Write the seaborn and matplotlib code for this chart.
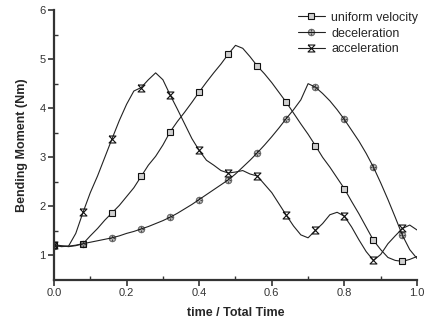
import numpy as np
import pandas as pd
import matplotlib
matplotlib.use("Agg")
import matplotlib.pyplot as plt
from matplotlib.path import Path
import seaborn as sns

time = [0.00, 0.02, 0.04, 0.06, 0.08, 0.10, 0.12, 0.14, 0.16, 0.18,
        0.20, 0.22, 0.24, 0.26, 0.28, 0.30, 0.32, 0.34, 0.36, 0.38,
        0.40, 0.42, 0.44, 0.46, 0.48, 0.50, 0.52, 0.54, 0.56, 0.58,
        0.60, 0.62, 0.64, 0.66, 0.68, 0.70, 0.72, 0.74, 0.76, 0.78,
        0.80, 0.82, 0.84, 0.86, 0.88, 0.90, 0.92, 0.94, 0.96, 0.98, 1.00]

uniform_velocity = [1.22, 1.20, 1.18, 1.20, 1.24, 1.40, 1.55, 1.72, 1.87, 2.02,
                    2.20, 2.38, 2.61, 2.84, 3.02, 3.25, 3.52, 3.73, 3.92, 4.12,
                    4.33, 4.53, 4.72, 4.90, 5.10, 5.28, 5.22, 5.05, 4.86, 4.70,
                    4.52, 4.32, 4.12, 3.90, 3.68, 3.47, 3.24, 3.00, 2.80, 2.58,
                    2.36, 2.10, 1.85, 1.58, 1.31, 1.12, 0.96, 0.90, 0.88, 0.92, 0.98]

deceleration = [1.20, 1.19, 1.19, 1.21, 1.24, 1.27, 1.30, 1.33, 1.36, 1.40,
                1.45, 1.49, 1.54, 1.59, 1.65, 1.71, 1.78, 1.86, 1.95, 2.04,
                2.14, 2.24, 2.34, 2.44, 2.54, 2.66, 2.80, 2.94, 3.09, 3.25,
                3.42, 3.60, 3.79, 3.97, 4.17, 4.50, 4.43, 4.30, 4.15, 3.97,
                3.77, 3.55, 3.33, 3.08, 2.80, 2.48, 2.14, 1.78, 1.41, 1.12, 0.94]

acceleration = [1.22, 1.18, 1.19, 1.45, 1.88, 2.28, 2.62, 3.00, 3.38, 3.75,
                4.08, 4.35, 4.42, 4.58, 4.72, 4.58, 4.27, 3.98, 3.68, 3.38,
                3.14, 2.94, 2.84, 2.73, 2.68, 2.70, 2.73, 2.66, 2.62, 2.45,
                2.28, 2.05, 1.82, 1.60, 1.42, 1.36, 1.51, 1.65, 1.83, 1.88,
                1.80, 1.58, 1.32, 1.08, 0.90, 1.02, 1.24, 1.40, 1.55, 1.62, 1.52]

series_names = ["uniform velocity", "deceleration", "acceleration"]
x_ticks = [0.0, 0.2, 0.4, 0.6, 0.8, 1.0]
y_ticks = [1, 2, 3, 4, 5, 6]

df = pd.DataFrame({
    "time": time * 3,
    "value": uniform_velocity + deceleration + acceleration,
    "series": [series_names[0]] * len(time) + [series_names[1]] * len(time) + [series_names[2]] * len(time),
})

sns.set_style("white")
plt.rcParams["font.family"] = ["Liberation Sans", "DejaVu Sans"]

fig = plt.figure(figsize=(4.33, 3.23), dpi=100)
ax = fig.add_axes([0.1247, 0.133, 0.8383, 0.836])

hourglass = Path([(-1, 1), (1, 1), (-1, -1), (1, -1), (-1, 1)],
                 [Path.MOVETO, Path.LINETO, Path.LINETO, Path.LINETO, Path.LINETO])
markers = {"uniform velocity": "s", "deceleration": "$\\oplus$", "acceleration": hourglass}
msize = {"uniform velocity": 4.5, "deceleration": 5.0, "acceleration": 5.0}
mew = {"uniform velocity": 0.8, "deceleration": 0.3, "acceleration": 0.8}

for name in series_names:
    sub = df[df["series"] == name]
    sns.lineplot(data=sub, x="time", y="value", ax=ax, color="#222222", lw=0.8,
                 marker=markers[name], markersize=msize[name], markevery=4,
                 markerfacecolor="#d0d0d0" if name == "uniform velocity" else "none",
                 markeredgecolor="#111111", markeredgewidth=mew[name], label=name,
                 estimator=None, sort=False)

ax.set_xlim(0, 1.0)
ax.set_ylim(0.5, 6)
ax.set_xticks(x_ticks)
ax.set_xticklabels([f"{t:.1f}" for t in x_ticks])
ax.set_yticks(y_ticks)
ax.set_yticklabels([str(t) for t in y_ticks])
ax.set_xticks([0.1, 0.3, 0.5, 0.7, 0.9], minor=True)
ax.set_yticks([1.5, 2.5, 3.5, 4.5, 5.5], minor=True)
ax.tick_params(which="major", direction="out", length=4, width=1.2, color="#333333",
               labelsize=8, labelcolor="#333333", bottom=True, left=True, pad=2)
ax.tick_params(which="minor", direction="in", length=3, width=1.0, color="#333333",
               bottom=True, left=True)

for s in ["top", "right"]:
    ax.spines[s].set_visible(False)
for s in ["left", "bottom"]:
    ax.spines[s].set_linewidth(1.6)
    ax.spines[s].set_color("#333333")

ax.set_xlabel("time / Total Time", fontsize=9, fontweight="bold", labelpad=6)
ax.set_ylabel("Bending Moment (Nm)", fontsize=9, fontweight="bold", labelpad=8)

leg = ax.legend(loc="upper right", bbox_to_anchor=(1.035, 1.035), frameon=False,
                fontsize=9, handlelength=2.2, handletextpad=0.5, labelspacing=0.3)

fig.savefig("out.png", dpi=100)
